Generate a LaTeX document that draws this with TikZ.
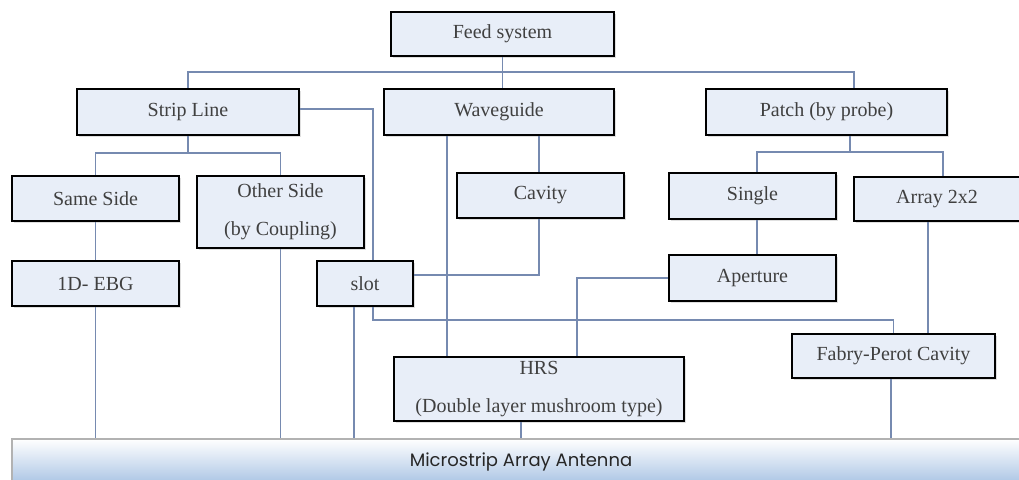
\documentclass[tikz,border=0pt]{standalone}
\usepackage{fontspec}
\setmainfont{Liberation Serif}
\newfontfamily\antfont{Poppins}
\usetikzlibrary{shadows}
\definecolor{boxfill}{RGB}{232,238,248}
\definecolor{linkcol}{RGB}{118,138,176}
\definecolor{barblue}{RGB}{170,196,228}
\def\u{0.75pt}
\tikzset{
    block/.style={draw=black,line width=1.5pt,fill=boxfill,
        drop shadow={shadow xshift=1.2pt,shadow yshift=-1.2pt,opacity=.25},
        font=\fontsize{15}{28.5}\selectfont,text=black!75,align=center,inner sep=0pt},
    link/.style={draw=linkcol,line width=0.8pt},
    antbar/.style={draw=black!30,line width=0.8pt,top color=white,bottom color=barblue,
        font=\antfont\fontsize{13.5}{15}\selectfont,text=black!85,inner sep=0pt}
}
\begin{document}
\begin{tikzpicture}[x=\u,y=\u]
    \useasboundingbox (0,0) rectangle (1019,479);
    % boxes
    \node[block,minimum width=223*\u,minimum height=44*\u] (feed) at (502.5,445) {Feed system};
    \node[block,minimum width=222*\u,minimum height=46*\u] (strip) at (188,367) {Strip Line};
    \node[block,minimum width=230*\u,minimum height=46*\u] (wave) at (499,367) {Waveguide};
    \node[block,minimum width=241*\u,minimum height=46*\u] (patch) at (826.5,367) {Patch (by probe)};
    \node[block,minimum width=167*\u,minimum height=45*\u] (same) at (95.5,280.5) {Same Side};
    \node[block,minimum width=167*\u,minimum height=72*\u] (other) at (280.5,267) {Other Side\\(by Coupling)};
    \node[block,minimum width=167*\u,minimum height=45*\u] (cavity) at (540.5,283.5) {Cavity};
    \node[block,minimum width=167*\u,minimum height=46*\u] (single) at (752.5,283) {Single};
    \node[block,minimum width=166*\u,minimum height=44*\u] (array) at (937,280) {Array 2x2};
    \node[block,minimum width=167*\u,minimum height=45*\u] (ebg) at (95.5,195.5) {1D- EBG};
    \node[block,minimum width=96*\u,minimum height=45*\u] (slot) at (365,195.5) {slot};
    \node[block,minimum width=167*\u,minimum height=46*\u] (aperture) at (752.5,201) {Aperture};
    \node[block,minimum width=203*\u,minimum height=44*\u] (fp) at (893.5,123) {Fabry-Perot Cavity};
    \node[block,minimum width=290*\u,minimum height=64*\u] (hrs) at (539,90) {HRS\\(Double layer mushroom type)};
    \node[antbar,minimum width=1018*\u,minimum height=45*\u] (ant) at (521,17.5) {Microstrip Array Antenna};
    % connectors
    \coordinate (bus) at (502,407);
    \coordinate (sbus) at (188,326);
    \draw[link] (feed.south) -- (feed.south |- wave.north);
    \draw[link] (strip.north) |- (bus) -| ([xshift=27.5*\u]patch.north);
    \draw[link] (strip.south) -- (sbus);
    \draw[link] (same.north) |- (sbus) -| (other.north);
    \draw[link] ([yshift=3*\u]strip.east) -| ([xshift=8*\u]slot.north);
    \draw[link] (same.south) -- (ebg.north);
    \draw[link] (ebg.south) -- (ebg.south |- ant.north);
    \draw[link] (other.south) -- (other.south |- ant.north);
    \draw[link] ([xshift=-11*\u]slot.south) -- ([xshift=-11*\u]slot.south |- ant.north);
    \draw[link] ([xshift=8*\u]slot.south) -- ++(0,-13) -| (fp.north);
    \draw[link] ([xshift=-52*\u]wave.south) -- ([xshift=-52*\u]wave.south |- hrs.north);
    \draw[link] ([xshift=40*\u]wave.south) -- ([xshift=40*\u]wave.south |- cavity.north);
    \draw[link] ([xshift=-1.5*\u]cavity.south) |- ([yshift=8.5*\u]slot.east);
    \draw[link] ([xshift=23.5*\u]patch.south) -- ++(0,-16) coordinate (pbus);
    \draw[link] ([xshift=4.5*\u]single.north) |- (pbus) -| ([xshift=6*\u]array.north);
    \draw[link] ([xshift=4.5*\u]single.south) -- ([xshift=4.5*\u]aperture.north);
    \draw[link] (aperture.west) -| ([xshift=38*\u]hrs.north);
    \draw[link] ([xshift=-9*\u]array.south) -- ([xshift=-9*\u]array.south |- fp.north);
    \draw[link] ([xshift=-2.5*\u]fp.south) -- ([xshift=-2.5*\u]fp.south |- ant.north);
    \draw[link] ([xshift=-18*\u]hrs.south) -- ([xshift=-18*\u]hrs.south |- ant.north);
\end{tikzpicture}
\end{document}
